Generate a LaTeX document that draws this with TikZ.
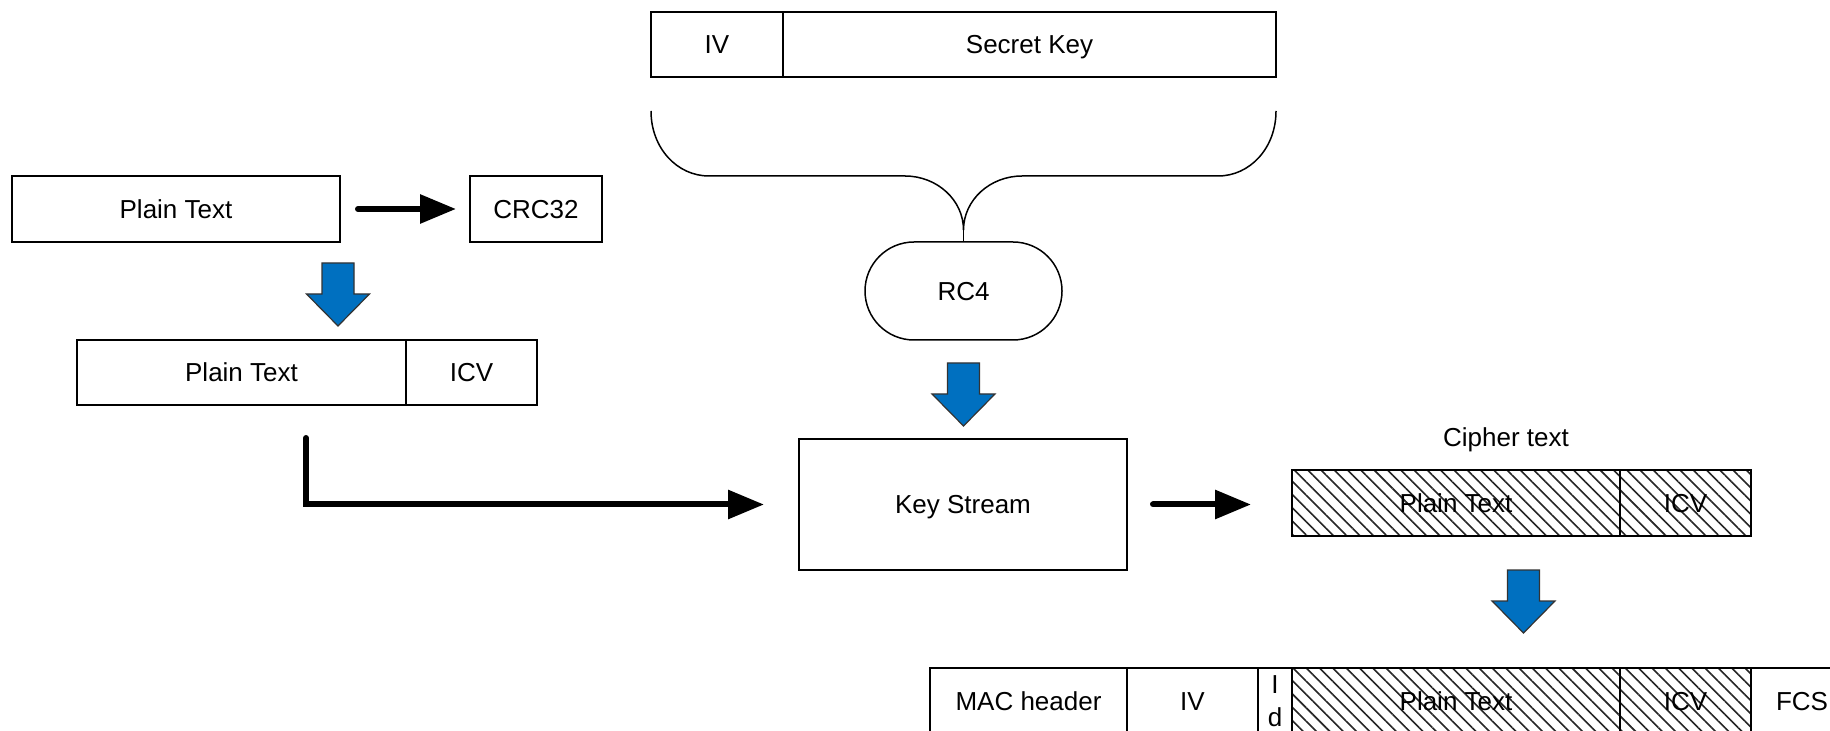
\documentclass[tikz,border=0pt]{standalone}
\usepackage{fontspec}
\setmainfont{Liberation Sans}
\usetikzlibrary{arrows.meta,patterns.meta,calc}

\definecolor{flowblue}{HTML}{0070C0}

\tikzset{
  cellbase/.style={draw, line width=0.75pt, inner sep=0pt, outer sep=0pt,
    anchor=north west, minimum height=33pt, align=center},
  cell/.style={cellbase, text height=9.3pt, text depth=0pt},
  hatched/.style={cell, pattern={Lines[angle=-45,distance=4.7pt,line width=0.8pt]},
    pattern color=black!85},
  thinline/.style={line width=0.75pt},
  blackarrow/.style={line width=3pt, line cap=round,
    -{Triangle[length=18pt,width=14pt]}},
  bluedown/.pic={
    \path[fill=flowblue, draw=black!80, line width=0.6pt]
      (-16,0) -- (16,0) -- (16,31) -- (31.5,31) -- (0,63)
      -- (-31.5,31) -- (-16,31) -- cycle;
  }
}

\begin{document}
\begin{tikzpicture}[x=0.5pt, y=-0.5pt, font=\fontsize{13}{16.5}\selectfont]
\clip (0,0) rectangle (1830,731);
\fill[white] (0,0) rectangle (1830,731);

% key material
\node[cell, minimum width=66pt, minimum height=32.5pt] (iv) at (651,12) {IV};
\node[cell, minimum width=246.5pt, minimum height=32.5pt] (sk) at (783,12) {Secret Key};

% RC4 block
\node[draw, line width=0.75pt, rounded corners=24.5pt, minimum width=98.5pt,
  minimum height=49pt, inner sep=0pt, text height=9.3pt, text depth=0pt]
  (rc4) at (963.5,291) {RC4};

% brace gathering IV and key into RC4
\coordinate (bl) at (651,111);
\coordinate (br) at (1276,111);
\coordinate (bmid) at (963.5,230);
\draw[thinline] (bl) .. controls (651,148) and (677,176) .. (709,176)
  -- (905,176) .. controls (937,176) and (963.5,200) .. (bmid)
  .. controls (963.5,200) and (990,176) .. (1022,176)
  -- (1218,176) .. controls (1250,176) and (1276,148) .. (br);
\draw[thinline] (bmid) -- (rc4.north);

% integrity check
\node[cell, minimum width=164pt] (pt1) at (12,176) {Plain Text};
\node[cell, minimum width=66pt] (crc) at (470,176) {CRC32};
\draw[blackarrow, shorten <=9pt, shorten >=7pt] (pt1.east) -- (crc.west);

\pic at (338,263) {bluedown};

\node[cell, minimum width=164.5pt, minimum height=32.5pt] (pt2) at (77,340) {Plain Text};
\node[cell, minimum width=65.5pt, minimum height=32.5pt] (icv2) at (406,340) {ICV};

% key stream
\pic at (963.5,363) {bluedown};
\node[cell, minimum width=164pt, minimum height=65.5pt] (ks) at (799,439) {Key Stream};

\coordinate (lstart) at (306,438);
\draw[blackarrow, shorten >=17.5pt] (lstart) |- (ks.west);

% cipher text
\node[text height=9.3pt, text depth=0pt] (ctlabel) at (1506,437) {Cipher text};
\node[hatched, minimum width=164pt] (cpt) at (1292,470) {Plain Text};
\node[hatched, minimum width=65.5pt] (cicv) at (1620,470) {ICV};
\draw[blackarrow, shorten <=13pt, shorten >=20.5pt] (ks.east) -- (ks.east -| cpt.west);

\pic at (1523.5,570) {bluedown};

% transmitted frame
\node[cell, minimum width=98.5pt] (mac) at (930,668) {MAC header};
\node[cell, minimum width=65.5pt] (iv3) at (1127,668) {IV};
\node[cellbase, minimum width=17pt] (kid) at (1258,668) {I\\d};
\node[hatched, minimum width=164pt] (bpt) at (1292,668) {Plain Text};
\node[hatched, minimum width=65.5pt] (bicv) at (1620,668) {ICV};
\node[cell, minimum width=51pt] (fcs) at (1751,668) {FCS};
\end{tikzpicture}
\end{document}
